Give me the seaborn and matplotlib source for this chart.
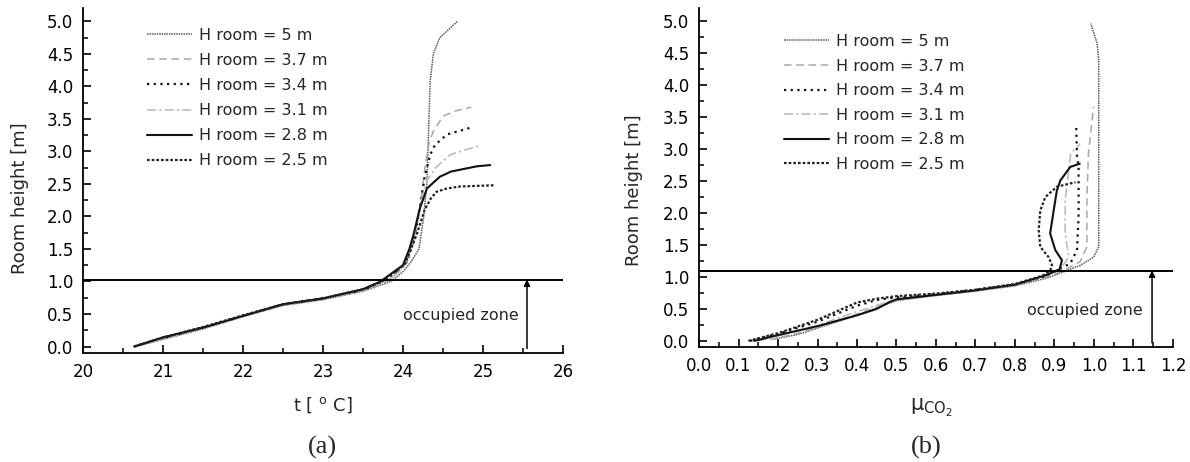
import pandas as pd
import seaborn as sns
import matplotlib
matplotlib.use("Agg")
import matplotlib.pyplot as plt
from matplotlib.ticker import MultipleLocator

labels = ["H room = 5 m", "H room = 3.7 m", "H room = 3.4 m",
          "H room = 3.1 m", "H room = 2.8 m", "H room = 2.5 m"]

# panel (a): temperature profiles, t [C] vs height [m]
t_5 = [20.66, 21.0, 21.5, 22.0, 22.5, 23.0, 23.5, 23.85, 24.0, 24.1, 24.2, 24.26, 24.3, 24.32, 24.34, 24.38, 24.46, 24.55, 24.68]
h_5 = [0.0, 0.11, 0.27, 0.46, 0.63, 0.72, 0.85, 1.0, 1.15, 1.3, 1.5, 2.0, 2.54, 3.31, 4.08, 4.5, 4.75, 4.85, 5.0]
t_37 = [20.66, 21.0, 21.5, 22.0, 22.5, 23.0, 23.5, 23.8, 23.98, 24.05, 24.15, 24.22, 24.28, 24.33, 24.38, 24.5, 24.65, 24.85]
h_37 = [0.0, 0.12, 0.28, 0.46, 0.64, 0.73, 0.86, 1.0, 1.18, 1.3, 1.7, 2.2, 2.8, 3.15, 3.31, 3.54, 3.62, 3.68]
t_34 = [20.64, 21.0, 21.5, 22.0, 22.5, 23.0, 23.5, 23.76, 23.96, 24.05, 24.15, 24.22, 24.27, 24.34, 24.4, 24.55, 24.86]
h_34 = [0.0, 0.13, 0.29, 0.47, 0.65, 0.74, 0.87, 1.0, 1.2, 1.3, 1.7, 2.2, 2.6, 2.95, 3.1, 3.26, 3.37]
t_31 = [20.66, 21.0, 21.5, 22.0, 22.5, 23.0, 23.5, 23.8, 23.98, 24.05, 24.15, 24.24, 24.3, 24.4, 24.59, 24.96]
h_31 = [0.0, 0.12, 0.28, 0.46, 0.64, 0.73, 0.86, 1.0, 1.18, 1.3, 1.7, 2.3, 2.55, 2.74, 2.95, 3.09]
t_28 = [20.64, 21.0, 21.5, 22.0, 22.5, 23.0, 23.5, 23.72, 23.92, 24.0, 24.08, 24.13, 24.21, 24.3, 24.46, 24.6, 24.92, 25.09]
h_28 = [0.0, 0.14, 0.29, 0.47, 0.65, 0.74, 0.88, 1.0, 1.18, 1.25, 1.5, 1.71, 2.12, 2.43, 2.61, 2.69, 2.77, 2.79]
t_25 = [20.64, 21.0, 21.5, 22.0, 22.5, 23.0, 23.5, 23.74, 23.94, 24.03, 24.1, 24.18, 24.27, 24.35, 24.42, 24.55, 24.71, 25.15]
h_25 = [0.0, 0.14, 0.3, 0.48, 0.65, 0.74, 0.88, 1.0, 1.18, 1.28, 1.5, 1.75, 2.1, 2.28, 2.38, 2.43, 2.46, 2.48]

# panel (b): CO2 concentration profiles
m_5 = [0.19, 0.25, 0.3, 0.4, 0.5, 0.6, 0.7, 0.8, 0.88, 0.923, 0.965, 0.999, 1.012, 1.012, 1.012, 1.008, 0.992]
z_5 = [0.03, 0.1, 0.2, 0.4, 0.63, 0.71, 0.78, 0.86, 0.98, 1.08, 1.18, 1.31, 1.47, 2.93, 4.39, 4.65, 4.96]
m_37 = [0.18, 0.25, 0.3, 0.4, 0.5, 0.6, 0.7, 0.8, 0.88, 0.923, 0.965, 0.982, 0.982, 0.986, 0.999]
z_37 = [0.02, 0.12, 0.21, 0.42, 0.64, 0.71, 0.78, 0.87, 1.0, 1.1, 1.24, 1.47, 2.2, 2.93, 3.66]
m_34 = [0.13, 0.2, 0.3, 0.4, 0.45, 0.5, 0.6, 0.7, 0.8, 0.87, 0.906, 0.94, 0.957, 0.961, 0.961, 0.957, 0.955]
z_34 = [0.0, 0.11, 0.3, 0.55, 0.64, 0.68, 0.73, 0.8, 0.88, 1.0, 1.1, 1.21, 1.42, 1.94, 2.72, 2.88, 3.34]
m_31 = [0.15, 0.2, 0.3, 0.4, 0.5, 0.6, 0.7, 0.8, 0.87, 0.915, 0.936, 0.927, 0.927, 0.941, 0.965]
z_31 = [0.0, 0.08, 0.24, 0.46, 0.65, 0.72, 0.79, 0.87, 1.0, 1.12, 1.31, 1.68, 2.2, 2.93, 3.08]
m_28 = [0.14, 0.2, 0.3, 0.4, 0.45, 0.48, 0.5, 0.6, 0.7, 0.8, 0.88, 0.913, 0.919, 0.902, 0.889, 0.898, 0.906, 0.915, 0.94, 0.964]
z_28 = [0.0, 0.09, 0.23, 0.4, 0.5, 0.6, 0.65, 0.72, 0.79, 0.88, 1.03, 1.12, 1.26, 1.42, 1.68, 2.04, 2.35, 2.51, 2.72, 2.77]
m_25 = [0.125, 0.2, 0.3, 0.4, 0.45, 0.5, 0.6, 0.7, 0.8, 0.87, 0.889, 0.894, 0.885, 0.864, 0.86, 0.864, 0.877, 0.906, 0.953]
z_25 = [0.0, 0.12, 0.33, 0.6, 0.66, 0.7, 0.74, 0.8, 0.89, 1.02, 1.1, 1.18, 1.31, 1.47, 1.73, 2.04, 2.25, 2.41, 2.48]

zone_a = 1.03
zone_b = 1.10

styles = [
    dict(color="#5a5a5a", linestyle=(0, (1, 0.6)), linewidth=1.1),
    dict(color="#a8a8a8", linestyle=(0, (5, 3)), linewidth=1.1),
    dict(color="#111111", linestyle=(0, (1, 2)), linewidth=1.6),
    dict(color="#b8b8b8", linestyle=(0, (6, 2, 1.5, 2)), linewidth=1.1),
    dict(color="#111111", linestyle="-", linewidth=1.5),
    dict(color="#222222", linestyle=(0, (1.2, 0.9)), linewidth=1.6),
]

sns.set_theme(style="ticks")
plt.rcParams["font.family"] = ["DejaVu Sans"]

fig = plt.figure(figsize=(11.9, 4.62), dpi=100)
ax1 = fig.add_axes([0.0697, 0.2359, 0.4034, 0.7461])
ax2 = fig.add_axes([0.5874, 0.2483, 0.3983, 0.7338])

curves_a = [(t_5, h_5), (t_37, h_37), (t_34, h_34), (t_31, h_31), (t_28, h_28), (t_25, h_25)]
curves_b = [(m_5, z_5), (m_37, z_37), (m_34, z_34), (m_31, z_31), (m_28, z_28), (m_25, z_25)]

for ax, curves in [(ax1, curves_a), (ax2, curves_b)]:
    for (xs, ys), lab, st in zip(curves, labels, styles):
        d = pd.DataFrame({"x": xs, "y": ys})
        sns.lineplot(data=d, x="x", y="y", sort=False, estimator=None,
                     ax=ax, label=lab, **st)

# occupied zone markers
ax1.axhline(zone_a, color="black", linewidth=1.4)
ax1.annotate("", xy=(25.55, zone_a), xytext=(25.55, -0.03),
             arrowprops=dict(arrowstyle="-|>", color="black", lw=1.1,
                             mutation_scale=9, shrinkA=0, shrinkB=0))
ax1.text(25.45, 0.48, "occupied zone", ha="right", va="center", fontsize=11.5)

ax2.axhline(zone_b, color="black", linewidth=1.4)
ax2.annotate("", xy=(1.147, zone_b), xytext=(1.147, -0.03),
             arrowprops=dict(arrowstyle="-|>", color="black", lw=1.1,
                             mutation_scale=9, shrinkA=0, shrinkB=0))
ax2.text(1.124, 0.48, "occupied zone", ha="right", va="center", fontsize=11.5)

ax1.set_xlim(20, 26)
ax1.set_ylim(-0.1, 5.2)
ax1.xaxis.set_major_locator(MultipleLocator(1))
ax1.xaxis.set_minor_locator(MultipleLocator(0.5))
ax2.set_xlim(0, 1.2)
ax2.set_ylim(-0.1, 5.2)
ax2.xaxis.set_major_locator(MultipleLocator(0.1))
ax2.xaxis.set_minor_locator(MultipleLocator(0.05))
ax2.xaxis.set_major_formatter(matplotlib.ticker.FormatStrFormatter("%.1f"))

for ax in (ax1, ax2):
    ax.yaxis.set_major_locator(MultipleLocator(0.5))
    ax.yaxis.set_minor_locator(MultipleLocator(0.25))
    ax.yaxis.set_major_formatter(matplotlib.ticker.FormatStrFormatter("%.1f"))
    sns.despine(ax=ax)
    for s in ("left", "bottom"):
        ax.spines[s].set_linewidth(1.3)
        ax.spines[s].set_color("black")
    ax.tick_params(which="major", direction="in", length=6, width=1.2,
                   colors="black", labelsize=12, pad=7)
    ax.tick_params(which="minor", direction="in", length=3.5, width=1.1,
                   colors="black")
    ax.set_ylabel("Room height [m]", fontsize=13)
    ax.set_xlabel("")

ax1.yaxis.set_label_coords(-0.1125, 0.45)
ax2.yaxis.set_label_coords(-0.118, 0.464)

ax1.text(0.5, -0.151, "t [ $^{\\mathregular{o}}$ C]", transform=ax1.transAxes,
         ha="center", va="center", fontsize=13)
ax2.text(0.49, -0.18, "$\\mathregular{\\mu_{CO_2}}$", transform=ax2.transAxes,
         ha="center", va="center", fontsize=15)
ax1.text(0.498, -0.273, "(a)", transform=ax1.transAxes, ha="center", va="center",
         fontsize=19, family="Liberation Serif")
ax2.text(0.48, -0.294, "(b)", transform=ax2.transAxes, ha="center", va="center",
         fontsize=19, family="Liberation Serif")

ax1.legend(loc="upper left", bbox_to_anchor=(0.133, 0.943), frameon=False,
           fontsize=11.5, handlelength=2.8, handletextpad=0.45,
           labelspacing=0.63, borderpad=0, borderaxespad=0)
ax2.legend(loc="upper left", bbox_to_anchor=(0.179, 0.924), frameon=False,
           fontsize=11.5, handlelength=2.8, handletextpad=0.45,
           labelspacing=0.6, borderpad=0, borderaxespad=0)

fig.savefig("out.png", dpi=100)
